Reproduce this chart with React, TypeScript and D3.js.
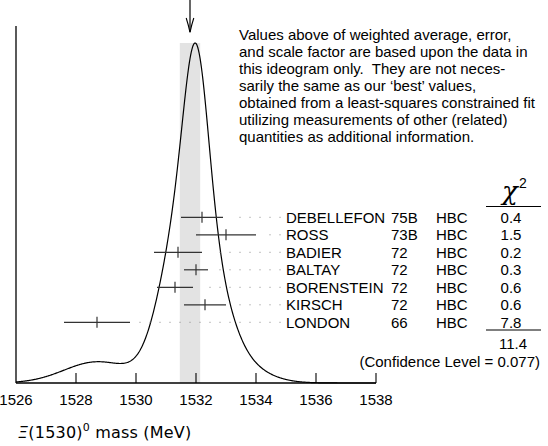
import React from "react";
import * as d3 from "d3";

const authors = ["DEBELLEFON", "ROSS", "BADIER", "BALTAY", "BORENSTEIN", "KIRSCH", "LONDON"];
const years = ["75B", "73B", "72", "72", "72", "72", "66"];
const techs = ["HBC", "HBC", "HBC", "HBC", "HBC", "HBC", "HBC"];
const values = [1532.2, 1533.0, 1531.4, 1532.0, 1531.3, 1532.3, 1528.7];
const errors = [0.7, 1.0, 0.8, 0.4, 0.6, 0.7, 1.1];
const chi2 = ["0.4", "1.5", "0.2", "0.3", "0.6", "0.6", "7.8"];
const chi2Total = "11.4";
const confidence = "(Confidence Level = 0.077)";
const average = 1531.8;
const averageError = 0.34;
const xTicks = [1526, 1528, 1530, 1532, 1534, 1536, 1538];
const note = [
  "Values above of weighted average, error,",
  "and scale factor are based upon the data in",
  "this ideogram only.  They are not neces-",
  "sarily the same as our \u2018best\u2019 values,",
  "obtained from a least-squares constrained fit",
  "utilizing measurements of other (related)",
  "quantities as additional information.",
];

const W = 548;
const H = 446;
const FONT = "'Liberation Sans', Arial, Helvetica, sans-serif";

export default function App() {
  const x = d3.scaleLinear().domain([1526, 1538]).range([16, 376]);
  const baseY = 383;
  const topY = 43;

  // ideogram: sum of gaussians with area proportional to 1/sigma
  const grid = d3.range(1526, 1538.0001, 0.02);
  const dens = (m: number) =>
    d3.sum(values, (v, i) => {
      const s = errors[i];
      return (1 / (s * s)) * Math.exp(-0.5 * ((m - v) / s) ** 2);
    });
  const pts = grid.map((m) => [m, dens(m)] as [number, number]);
  const maxD = d3.max(pts, (p) => p[1]) as number;
  const y = d3.scaleLinear().domain([0, maxD]).range([baseY, topY]);
  const line = d3
    .line<[number, number]>()
    .x((p) => x(p[0]))
    .y((p) => y(p[1]))
    .curve(d3.curveLinear);

  const rowY = (i: number) => 217.3 + 17.5 * i;
  const ax = x(average);

  return (
    <svg
      width={W}
      height={H}
      style={{ position: "absolute", left: 0, top: 0, background: "#fff" }}
      fontFamily={FONT}
    >
      <rect x={0} y={0} width={W} height={H} fill="#fff" />
      {/* average band */}
      <rect
        x={x(average - averageError)}
        y={topY}
        width={x(average + averageError) - x(average - averageError)}
        height={baseY - topY}
        fill="#e3e3e3"
      />
      {/* arrow */}
      <line x1={ax} x2={ax} y1={0} y2={32} stroke="#000" strokeWidth={1.2} />
      <path
        d={`M${ax - 3.8},18 Q${ax - 1.5},25 ${ax},32.5 Q${ax + 1.5},25 ${ax + 3.8},18`}
        fill="none"
        stroke="#000"
        strokeWidth={1.1}
      />
      {/* curve */}
      <path d={line(pts) || ""} fill="none" stroke="#000" strokeWidth={1.2} />
      {/* axes */}
      <line x1={16} x2={16} y1={26} y2={baseY} stroke="#000" strokeWidth={1.3} />
      <line x1={16} x2={376} y1={baseY} y2={baseY} stroke="#000" strokeWidth={1.3} />
      {xTicks.slice(1).map((t) => (
        <line key={t} x1={x(t)} x2={x(t)} y1={baseY} y2={baseY - 10} stroke="#000" strokeWidth={1.1} />
      ))}
      {xTicks.map((t) => (
        <text key={t} x={x(t)} y={405} fontSize={15} textAnchor="middle">
          {t}
        </text>
      ))}
      <text x={18} y={438} fontSize={16} fontFamily="'DejaVu Sans', sans-serif" letterSpacing={0.2}>
        <tspan fontStyle="italic">Ξ</tspan>
        <tspan>(1530)</tspan>
        <tspan fontSize={11} dy={-7}>0</tspan>
        <tspan dy={7}> mass (MeV)</tspan>
      </text>
      {/* measurements */}
      {values.map((v, i) => {
        const yy = rowY(i);
        const x0 = x(v - errors[i]);
        const x1 = x(v + errors[i]);
        const dots = d3.range(280, x1 + 10, -10);
        return (
          <g key={authors[i]}>
            {dots.map((dx) => (
              <rect key={dx} x={dx - 0.5} y={yy - 0.5} width={1} height={1} fill="#888" />
            ))}
            <line x1={x0} x2={x1} y1={yy} y2={yy} stroke="#333" strokeWidth={1.2} />
            <line x1={x(v)} x2={x(v)} y1={yy - 5.5} y2={yy + 5.5} stroke="#333" strokeWidth={1.2} />
            <text x={286} y={yy + 5.5} fontSize={15}>{authors[i]}</text>
            <text x={391} y={yy + 5.5} fontSize={15}>{years[i]}</text>
            <text x={436} y={yy + 5.5} fontSize={15}>{techs[i]}</text>
            <text x={511} y={yy + 5.5} fontSize={15} textAnchor="middle">{chi2[i]}</text>
          </g>
        );
      })}
      {/* chi2 header */}
      <text x={502} y={200} fontSize={26} fontFamily="'DejaVu Serif', serif" fontStyle="italic">χ</text>
      <text x={519} y={188} fontSize={14}>2</text>
      <line x1={486} x2={541} y1={206.5} y2={206.5} stroke="#000" strokeWidth={1.2} />
      <line x1={486} x2={541} y1={330} y2={330} stroke="#000" strokeWidth={1.2} />
      <text x={513} y={349} fontSize={15} textAnchor="middle">{chi2Total}</text>
      <text x={540} y={367} fontSize={15} textAnchor="end">{confidence}</text>
      {/* note */}
      {note.map((t, i) => (
        <text key={i} x={239} y={39.5 + 17 * i} fontSize={15} style={{ whiteSpace: "pre" }}>{t}</text>
      ))}
    </svg>
  );
}
